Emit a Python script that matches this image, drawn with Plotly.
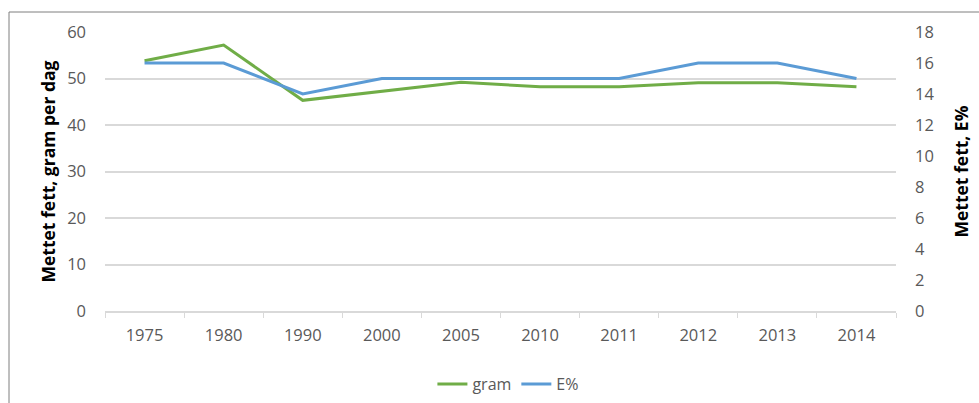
import plotly.graph_objects as go

years = ["1975", "1980", "1990", "2000", "2005", "2010", "2011", "2012", "2013", "2014"]
gram = [53.8, 57.2, 45.3, 47.2, 49.2, 48.2, 48.2, 49.1, 49.1, 48.2]
e_pct = [16, 16, 14, 15, 15, 15, 15, 16, 16, 15]

left_ticks = [0, 10, 20, 30, 40, 50, 60]
right_ticks = [0, 2, 4, 6, 8, 10, 12, 14, 16, 18]

GREEN = "#70AD47"
BLUE = "#5B9BD5"
GRID = "#D9D9D9"
TICKFONT = dict(family="Open Sans", size=16.5, color="#595959")

fig = go.Figure()
fig.add_trace(go.Scatter(x=years, y=gram, name="gram", mode="lines",
                         line=dict(color=GREEN, width=3), yaxis="y"))
fig.add_trace(go.Scatter(x=years, y=e_pct, name="E%", mode="lines",
                         line=dict(color=BLUE, width=3), yaxis="y2"))

W, H = 979, 403
L, R, T, B = 105, 83, 32, 92
pw = W - L - R
ph = H - T - B

def px_x(p):
    return (p - L) / pw

def px_y(p):
    return (H - B - p) / ph

fig.update_layout(
    width=W, height=H,
    margin=dict(l=L, r=R, t=T, b=B, autoexpand=False),
    paper_bgcolor="white", plot_bgcolor="white",
    showlegend=True,
    legend=dict(orientation="h", x=0.51, xanchor="center", y=px_y(384), yanchor="middle",
                font=dict(family="Open Sans", size=16, color="#595959"),
                bgcolor="rgba(0,0,0,0)"),
    xaxis=dict(type="category", range=[-0.5, 9.5], showgrid=False, automargin=False,
               showline=True, linecolor=GRID, linewidth=1.5,
               ticks="outside", tickson="boundaries", ticklen=5, tickcolor=GRID,
               tickfont=TICKFONT, ticklabelstandoff=8, zeroline=False),
    yaxis=dict(range=[0, 60], tickvals=left_ticks, showgrid=True, gridcolor=GRID,
               gridwidth=1.5, zeroline=False, showline=False, ticks="", automargin=False,
               tickfont=TICKFONT, ticklabelstandoff=18),
    yaxis2=dict(range=[0, 18], tickvals=right_ticks, overlaying="y", side="right",
                showgrid=False, zeroline=False, showline=False, ticks="", automargin=False,
                tickfont=TICKFONT, ticklabelstandoff=18),
    annotations=[
        dict(text="<b>Mettet fett, gram per dag</b>", textangle=-90,
             xref="paper", yref="paper", x=px_x(47), y=0.5,
             xanchor="center", yanchor="middle", showarrow=False,
             font=dict(family="Open Sans", size=17.5, color="black")),
        dict(text="<b>Mettet fett, E%</b>", textangle=-90,
             xref="paper", yref="paper", x=px_x(960), y=0.5,
             xanchor="center", yanchor="middle", showarrow=False,
             font=dict(family="Open Sans", size=17.5, color="black")),
    ],
    shapes=[
        dict(type="rect", xref="paper", yref="paper",
             x0=px_x(9), x1=px_x(W + 20), y0=px_y(H + 20), y1=px_y(12),
             line=dict(color="#7F7F7F", width=1), layer="below"),
    ],
)

fig.write_html("out.html")
